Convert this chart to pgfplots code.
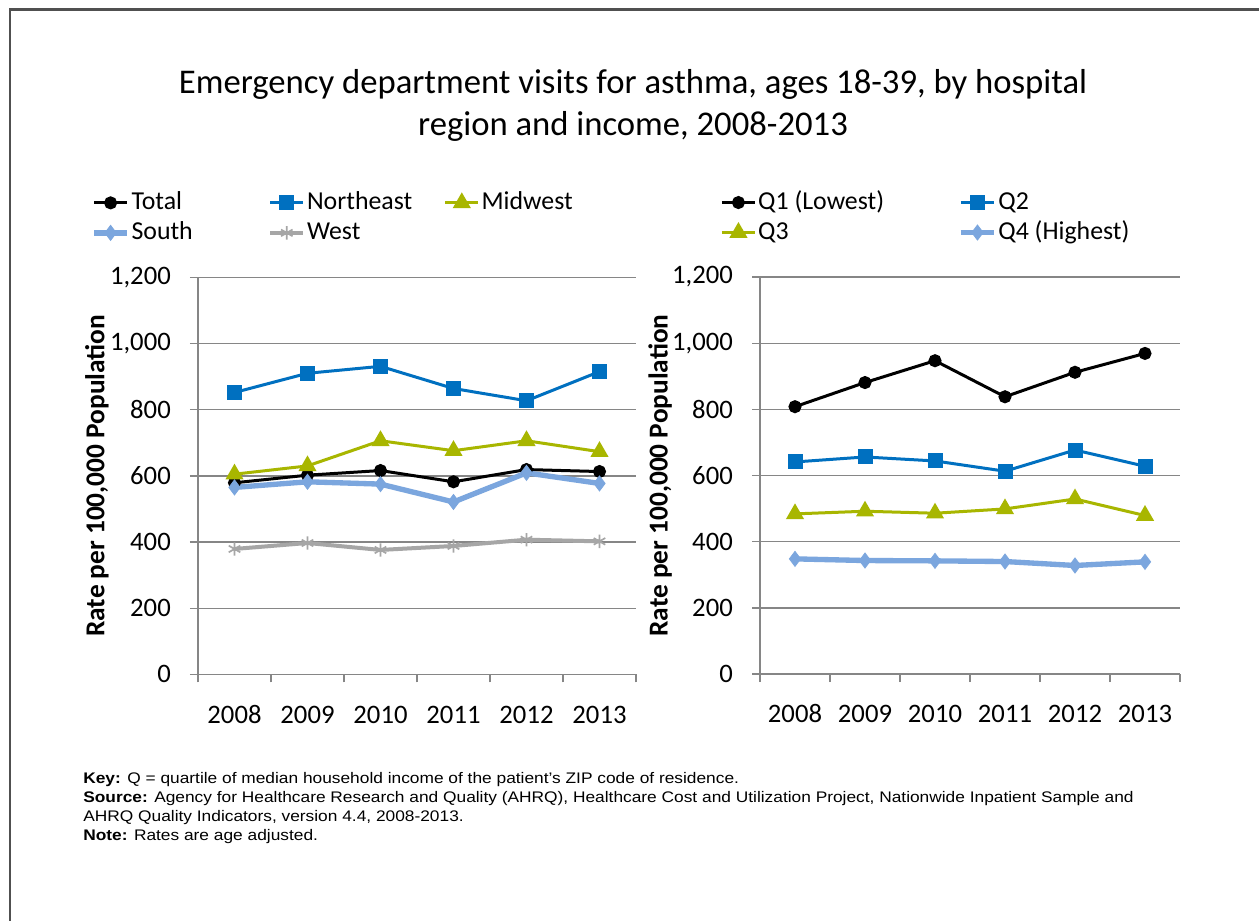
\documentclass[border=0pt]{standalone}
\usepackage{fontspec}
\setmainfont{Carlito}
\newfontfamily\narrowfont[FakeStretch=1.13]{Liberation Sans}
\usepackage{pgfplots}
\pgfplotsset{compat=1.18}
\definecolor{ne}{RGB}{0,112,192}
\definecolor{mw}{RGB}{168,182,0}
\definecolor{so}{RGB}{123,166,222}
\definecolor{we}{RGB}{166,166,166}
\definecolor{gridc}{RGB}{134,134,134}
\definecolor{framec}{RGB}{80,80,80}
\pgfplotsset{
 mystyle/.style={
  scale only axis, height=238.2pt, xmin=-0.5, xmax=5.5, ymin=0, ymax=1200,
  ytick={0,200,...,1200}, xtick={0,...,5}, xticklabels={2008,2009,2010,2011,2012,2013},
  minor xtick={-0.5,0.5,...,5.5},
  axis x line*=bottom, axis y line*=left,
  axis line style={gridc, line width=0.8pt},
  ymajorgrids, major grid style={gridc, line width=0.8pt},
  tick align=outside, major tick length=4.8pt, minor tick length=4.8pt,
  tick style={gridc, line width=0.8pt},
  major x tick style={draw=none},
  /pgf/number format/assume math mode=true, /pgf/number format/1000 sep={,},
  ticklabel style={font=\fontsize{16}{19}\selectfont},
  xticklabel style={anchor=north, text height=11pt, text depth=0pt, yshift=-10pt},
  yticklabel style={xshift=-8pt},
  ylabel={Rate per 100,000 Population},
  ylabel style={font=\bfseries\fontsize{16.4}{19}\selectfont, anchor=center, rotate=0},
  legend style={draw=none, fill=none, inner sep=0pt, anchor=north west,
    font=\fontsize{15.5}{19}\selectfont,
    nodes={inner sep=1pt, text height=11pt, text depth=3pt, anchor=west},
    /tikz/row sep=2pt, /tikz/column sep=0pt},
  legend cell align=left,
  legend image code/.code={\draw[mark repeat=2,mark phase=2,##1] plot coordinates {(0cm,0cm) (0.35cm,0cm) (0.7cm,0cm)};},
 },
 stot/.style={black, line width=1.8pt, mark=*, mark size=3pt, mark options={solid}},
 sne/.style={ne, line width=1.8pt, mark=square*, mark size=3.6pt, mark options={solid}},
 smw/.style={mw, line width=1.8pt, mark=triangle*, mark size=4.5pt, mark options={solid}},
 sso/.style={so, line width=3.2pt, mark=diamond*, mark size=4.5pt, mark options={solid, line width=0.5pt}},
 swe/.style={we, line width=2.4pt, mark=asterisk, mark size=4pt, mark options={solid, line width=1pt}},
}
\begin{document}
\begin{tikzpicture}
\useasboundingbox (0,0) rectangle (755.4pt,-552pt);
\fill[white] (0,0) rectangle (755.4pt,-552pt);
\draw[framec, line width=1.5pt] (6pt,-553pt) -- (6pt,-5.7pt) -- (756pt,-5.7pt);
\node[font=\fontsize{20.8}{25.2}\selectfont, anchor=base] at (379.8pt,-55.8pt) {Emergency department visits for asthma, ages 18-39, by hospital};
\node[font=\fontsize{20.8}{25.2}\selectfont, anchor=base] at (379.8pt,-81pt) {region and income, 2008-2013};

\begin{axis}[mystyle, width=262.8pt, anchor=south west, at={(118.8pt,-404.6pt)},
  ylabel style={at={(axis description cs:-0.2306,0.5)}, rotate=0},
  legend columns=3,
  legend style={at={(axis description cs:-0.2443,1.222)}}]
\addplot[stot] coordinates {(0,579) (1,602) (2,616) (3,582) (4,619) (5,613)};
\addlegendentry{\makebox[81pt][l]{Total}}
\addplot[sne] coordinates {(0,852) (1,910) (2,931) (3,864) (4,827) (5,915)};
\addlegendentry{\makebox[81pt][l]{Northeast}}
\addplot[smw] coordinates {(0,605) (1,630) (2,706) (3,676) (4,706) (5,673)};
\addlegendentry{Midwest}
\addplot[sso] coordinates {(0,565) (1,582) (2,575) (3,521) (4,609) (5,577)};
\addlegendentry{\makebox[81pt][l]{South}}
\addplot[swe] coordinates {(0,379) (1,397) (2,376) (3,388) (4,407) (5,402)};
\addlegendentry{\makebox[81pt][l]{West}}
\end{axis}

\begin{axis}[mystyle, width=252pt, anchor=south west, at={(456pt,-404.4pt)},
  ylabel style={at={(axis description cs:-0.238,0.5)}},
  legend columns=2,
  legend style={at={(axis description cs:-0.0952,1.222)}}]
\addplot[stot] coordinates {(0,808) (1,881) (2,947) (3,838) (4,912) (5,969)};
\addlegendentry{\makebox[119pt][l]{Q1 (Lowest)}}
\addplot[sne] coordinates {(0,641) (1,656) (2,644) (3,613) (4,677) (5,628)};
\addlegendentry{Q2}
\addplot[smw] coordinates {(0,484) (1,492) (2,486) (3,499) (4,529) (5,479)};
\addlegendentry{\makebox[119pt][l]{Q3}}
\addplot[sso] coordinates {(0,348) (1,343) (2,342) (3,340) (4,328) (5,339)};
\addlegendentry{Q4 (Highest)}
\end{axis}

\begin{scope}[every node/.style={anchor=base west, inner sep=0pt, font=\narrowfont\fontsize{9.2}{11.4}\selectfont}]
\node at (49.8pt,-469.8pt) {\textbf{Key:} Q = quartile of median household income of the patient’s ZIP code of residence.};
\node at (49.8pt,-481.2pt) {\textbf{Source:} Agency for Healthcare Research and Quality (AHRQ), Healthcare Cost and Utilization Project, Nationwide Inpatient Sample and};
\node at (49.8pt,-492.6pt) {AHRQ Quality Indicators, version 4.4, 2008-2013.};
\node at (49.8pt,-504pt) {\textbf{Note:} Rates are age adjusted.};
\end{scope}
\end{tikzpicture}
\end{document}
